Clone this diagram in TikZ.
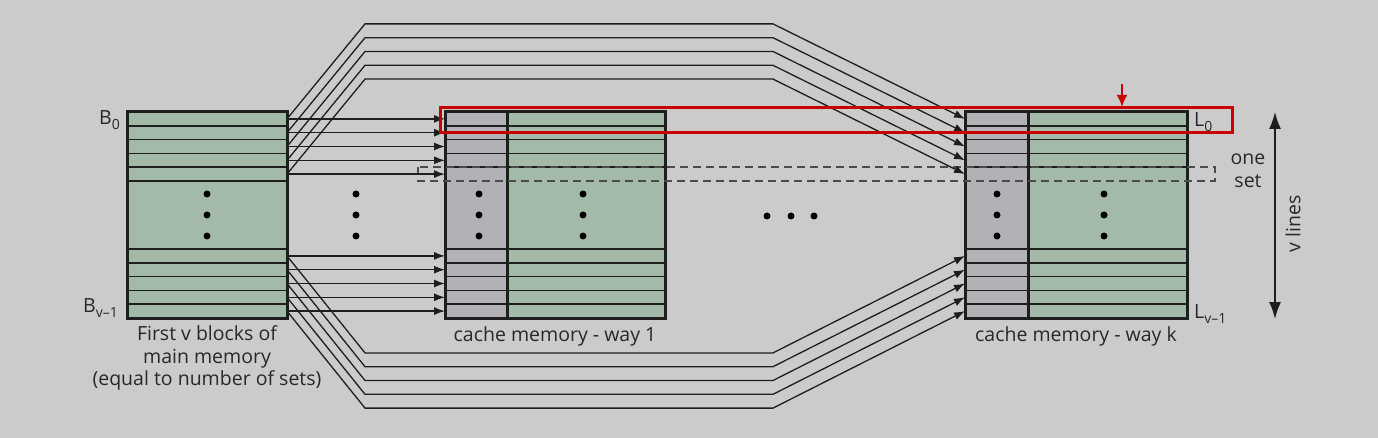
\documentclass[tikz,border=0pt]{standalone}
\usepackage{fontspec}
\setmainfont{Open Sans}
\usetikzlibrary{positioning,arrows.meta}
\definecolor{bgc}{RGB}{203,203,203}
\definecolor{datac}{RGB}{164,186,168}
\definecolor{tagc}{RGB}{178,178,182}
\definecolor{inkc}{RGB}{30,30,30}
\definecolor{txtc}{RGB}{40,40,40}
\definecolor{hotc}{RGB}{200,0,0}
\newcommand{\lowidx}[1]{\raisebox{-4.5pt}{\fontsize{14}{14}\selectfont#1}}

\begin{document}
\begin{tikzpicture}[x=1pt,y=-1pt,
  blockbox/.style={rectangle,draw=inkc,line width=3pt,fill=datac,minimum height=206pt,inner sep=0pt},
  tagbox/.style={blockbox,fill=tagc},
  rowbox/.style={rectangle,minimum height=13.8pt,inner sep=0pt,outer sep=0pt},
  sepline/.style={draw=inkc,line width=1.5pt},
  wire/.style={draw=inkc,line width=1.3pt,-{Latex[length=11pt,width=8pt]}},
  setline/.style={draw=inkc!80,line width=1.4pt,dash pattern=on 8pt off 5pt},
  dot/.style={circle,fill=black,inner sep=0pt,minimum size=7pt},
  lbl/.style={text=txtc,font=\fontsize{19.5}{22.5}\selectfont,inner sep=0pt}]
\fill[bgc] (0,0) rectangle (1378,438);

% blocks
\node[blockbox,minimum width=160pt] (mem) at (207,215) {};
\node[blockbox,minimum width=220pt] (way1) at (555,215) {};
\node[tagbox,minimum width=62pt] (tag1) at (476,215) {};
\node[blockbox,minimum width=222pt] (wayk) at (1076,215) {};
\node[tagbox,minimum width=63pt] (tagk) at (996.5,215) {};

% rows
\foreach \b/\cx/\w in {m/207/160,a/555/220,k/1076/222}{
  \foreach \i in {1,...,5}{
    \node[rowbox,minimum width=\w] (\b t\i) at (\cx,{105.1+13.8*\i}) {};
    \node[rowbox,minimum width=\w] (\b b\i) at (\cx,{242.1+13.8*\i}) {};
    \draw[sepline] (\b b\i.north west) -- (\b b\i.north east);
  }
  \foreach \i in {1,...,4}
    \draw[sepline] (\b t\i.south west) -- (\b t\i.south east);
}
\draw[sepline] (mt5.south west) -- (mt5.south east);

% dots
\foreach \y in {194,215,236}{
  \node[dot] (dm\y) at (207,\y) {};
  \node[dot] (dg\y) at (356,\y) {};
  \node[dot] (da\y) at (479,\y) {};
  \node[dot] (db\y) at (583,\y) {};
  \node[dot] (dk\y) at (997,\y) {};
  \node[dot] (dl\y) at (1104,\y) {};
}
\foreach \x in {767,791,814}
  \node[dot] (dw\x) at (\x,216) {};

% one set
\draw[setline] ([xshift=-27pt]at5.north west) rectangle ([xshift=28pt]kt5.south east);

% mapping
\foreach \i in {1,...,5}{
  \draw[wire] (mt\i.east) -- (at\i.west);
  \draw[wire] (mb\i.east) -- (ab\i.west);
  \draw[wire] (mt\i.east) -- ++(78,-95) -- ++(408,0) -- (kt\i.west);
  \draw[wire] (mb\i.east) -- ++(78,97) -- ++(408,0) -- (kb\i.west);
}

% highlight
\draw[hotc,line width=3pt] (440,107.5) rectangle (1232,132.5);
\coordinate (ptr) at (1122,107);
\coordinate (ptrtop) at (1122,84);
\draw[hotc,line width=2.8pt,-{Latex[length=12pt,width=11pt]}] (ptrtop) -- (ptr);

% labels
\node[lbl,anchor=east] (b0) at (120,120) {B\lowidx{0}};
\node[lbl,anchor=east] (bv) at (118,308) {B\lowidx{v–1}};
\node[lbl,anchor=west] (l0) at (1194,122) {L\lowidx{0}};
\node[lbl,anchor=west] (lv) at (1194,314) {L\lowidx{v–1}};
\node[lbl,align=center,below=6pt of mem] (memcap) {First v blocks of\\main memory\\(equal to number of sets)};
\node[lbl,below=7pt of way1] (cap1) {cache memory - way 1};
\node[lbl,below=7pt of wayk] (capk) {cache memory - way k};
\node[lbl,align=center] (oneset) at (1248,171) {one\\set};
\node[lbl,rotate=90] (vl) at (1293,224) {v lines};
\coordinate (vtop) at (1275,112);
\coordinate (vbot) at (1275,319);
\draw[inkc,line width=1.6pt,{Latex[length=17pt,width=12pt]}-{Latex[length=17pt,width=12pt]}] (vtop) -- (vbot);
\end{tikzpicture}
\end{document}
